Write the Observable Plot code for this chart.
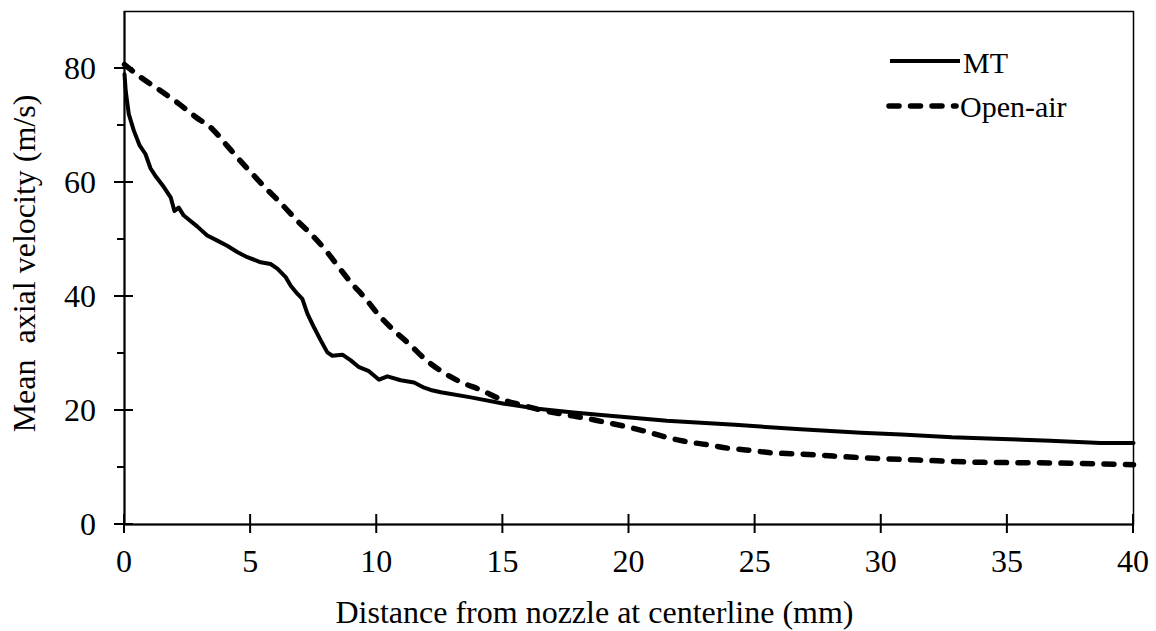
<!DOCTYPE html>
<html>
<head>
<meta charset="utf-8">
<script src="https://cdn.jsdelivr.net/npm/d3@7"></script>
<script src="https://cdn.jsdelivr.net/npm/@observablehq/plot@0.6"></script>
<style>
  body { margin: 0; background: #fff; overflow: hidden; }
  #chart svg { display: block; }
</style>
</head>
<body>
<div id="chart"></div>
<script>
// ---- Data ----
const xTicks = [0, 5, 10, 15, 20, 25, 30, 35, 40];
const yMajorTicks = [0, 20, 40, 60, 80];
const yMinorTicks = [10, 30, 50, 70];
const seriesNames = ["MT", "Open-air"];
const xTitle = "Distance from nozzle at centerline (mm)";
const yTitle = "Mean  axial velocity (m/s)";

const mtX = [0, 0.05, 0.17, 0.37, 0.6, 0.83, 1.03, 1.25, 1.56, 1.83, 1.98, 2.15, 2.35, 2.88, 3.28, 3.68, 4.07, 4.47, 4.87, 5.4, 5.79, 6.06, 6.39, 6.59, 6.85, 7.05, 7.25, 7.51, 7.78, 8.04, 8.24, 8.64, 8.97, 9.3, 9.69, 10.09, 10.42, 10.95, 11.48, 11.88, 12.14, 12.54, 13.73, 15.05, 16.38, 17.7, 18.9, 19.7, 21.5, 24.2, 26.8, 29.2, 30.8, 32.8, 34.8, 36.7, 38.7, 40];
const mtY = [79.0, 76.0, 72.0, 69.1, 66.5, 65.0, 62.5, 61.0, 59.2, 57.4, 55.0, 55.6, 54.2, 52.3, 50.7, 49.8, 48.9, 47.8, 46.9, 46.0, 45.7, 44.9, 43.4, 41.9, 40.5, 39.6, 37.0, 34.6, 32.3, 30.2, 29.6, 29.8, 28.8, 27.6, 26.9, 25.4, 26.0, 25.3, 24.9, 24.0, 23.6, 23.2, 22.3, 21.2, 20.3, 19.7, 19.2, 18.9, 18.2, 17.5, 16.7, 16.1, 15.8, 15.3, 15.0, 14.7, 14.3, 14.3];

const openX = [0, 0.63, 1.43, 2.16, 2.82, 3.48, 4.0, 4.47, 5.07, 5.6, 6.06, 6.85, 7.45, 7.98, 8.5, 8.97, 9.56, 10.09, 10.69, 11.28, 11.94, 12.67, 13.33, 14.13, 14.92, 15.71, 16.5, 17.3, 18.1, 18.89, 19.55, 20.6, 21.4, 22.2, 23.1, 23.9, 24.8, 25.6, 26.6, 27.4, 28.1, 28.9, 31.5, 34.1, 36.7, 40];
const openY = [80.7, 78.5, 76.1, 73.8, 71.5, 69.4, 66.8, 64.4, 61.5, 59.0, 57.0, 53.3, 50.7, 48.1, 45.1, 42.5, 39.6, 36.7, 34.0, 31.7, 28.9, 26.6, 25.0, 23.6, 22.0, 21.0, 20.1, 19.4, 18.8, 18.1, 17.5, 16.4, 15.4, 14.6, 14.0, 13.4, 13.0, 12.6, 12.4, 12.2, 12.0, 11.8, 11.3, 10.9, 10.8, 10.5];

const mtRows = mtX.map((x, i) => ({series: seriesNames[0], x, y: mtY[i]}));
const openRows = openX.map((x, i) => ({series: seriesNames[1], x, y: openY[i]}));

// ---- Styling ----
const FONT = "'Liberation Serif', 'Times New Roman', serif";
const solidW = 4, dashW = 5.5, dash = "10,11.5";
const tickFont = 32;

const plot = Plot.plot({
  width: 1156, height: 631,
  marginLeft: 124, marginRight: 23, marginTop: 11, marginBottom: 107,
  style: {fontFamily: FONT, background: "#fff", color: "#000", overflow: "visible"},
  x: {domain: [0, 40], axis: null},
  y: {domain: [0, 90], axis: null},
  marks: [
    Plot.frame({stroke: "#000", strokeWidth: 1.5}),
    Plot.line(mtRows, {x: "x", y: "y", stroke: "#000", strokeWidth: solidW, strokeLinejoin: "round", strokeLinecap: "round"}),
    Plot.line(openRows, {x: "x", y: "y", curve: "monotone-x", stroke: "#000", strokeWidth: dashW, strokeDasharray: dash, strokeLinecap: "round"}),
    Plot.ruleX([0], {stroke: "#000", strokeWidth: 2}),
    Plot.ruleY([0], {stroke: "#000", strokeWidth: 2})
  ]
});
document.getElementById("chart").appendChild(plot);

// ---- Axes: ticks and tick labels through the plot's scales ----
const xs = plot.scale("x"), ys = plot.scale("y");
const sx = d3.scaleLinear(xs.domain, xs.range);
const sy = d3.scaleLinear(ys.domain, ys.range);
const svg = d3.select(plot);
const tg = svg.append("g").attr("stroke", "#000").attr("stroke-width", 2);
xTicks.forEach(v => tg.append("line").attr("x1", sx(v)).attr("x2", sx(v)).attr("y1", sy(0) - 10).attr("y2", sy(0) + 9));
yMajorTicks.forEach(v => tg.append("line").attr("x1", sx(0) - 10).attr("x2", sx(0) + 9).attr("y1", sy(v)).attr("y2", sy(v)));
yMinorTicks.forEach(v => tg.append("line").attr("x1", sx(0) - 7).attr("x2", sx(0)).attr("y1", sy(v)).attr("y2", sy(v)));

const lbl = svg.append("g").attr("font-family", FONT).attr("font-size", tickFont).attr("fill", "#000");
xTicks.forEach(v => lbl.append("text").attr("x", sx(v)).attr("y", sy(0) + 48).attr("text-anchor", "middle").text(String(v)));
yMajorTicks.forEach(v => lbl.append("text").attr("x", sx(0) - 28).attr("y", sy(v) + 10.5).attr("text-anchor", "end").text(String(v)));

// ---- Axis titles ----
svg.append("text").attr("x", 594.5).attr("y", 623).attr("text-anchor", "middle")
  .attr("font-family", FONT).attr("font-size", 32).attr("fill", "#000").text(xTitle);
svg.append("text").attr("transform", "translate(35,263.5) rotate(-90)").attr("text-anchor", "middle")
  .attr("font-family", FONT).attr("font-size", 32).attr("fill", "#000")
  .style("white-space", "pre").attr("xml:space", "preserve").text(yTitle);

// ---- Legend ----
const lg = svg.append("g").attr("font-family", FONT).attr("font-size", 30).attr("fill", "#000").attr("text-anchor", "start");
lg.append("line").attr("x1", 890).attr("x2", 960).attr("y1", 61).attr("y2", 61).attr("stroke", "#000").attr("stroke-width", solidW);
lg.append("text").attr("x", 963).attr("y", 73).attr("text-anchor", "start").text(seriesNames[0]);
lg.append("line").attr("x1", 889).attr("x2", 956).attr("y1", 106).attr("y2", 106).attr("stroke", "#000").attr("stroke-width", dashW).attr("stroke-dasharray", dash).attr("stroke-linecap", "round");
lg.append("text").attr("x", 960).attr("y", 117).attr("text-anchor", "start").text(seriesNames[1]);
</script>
</body>
</html>
